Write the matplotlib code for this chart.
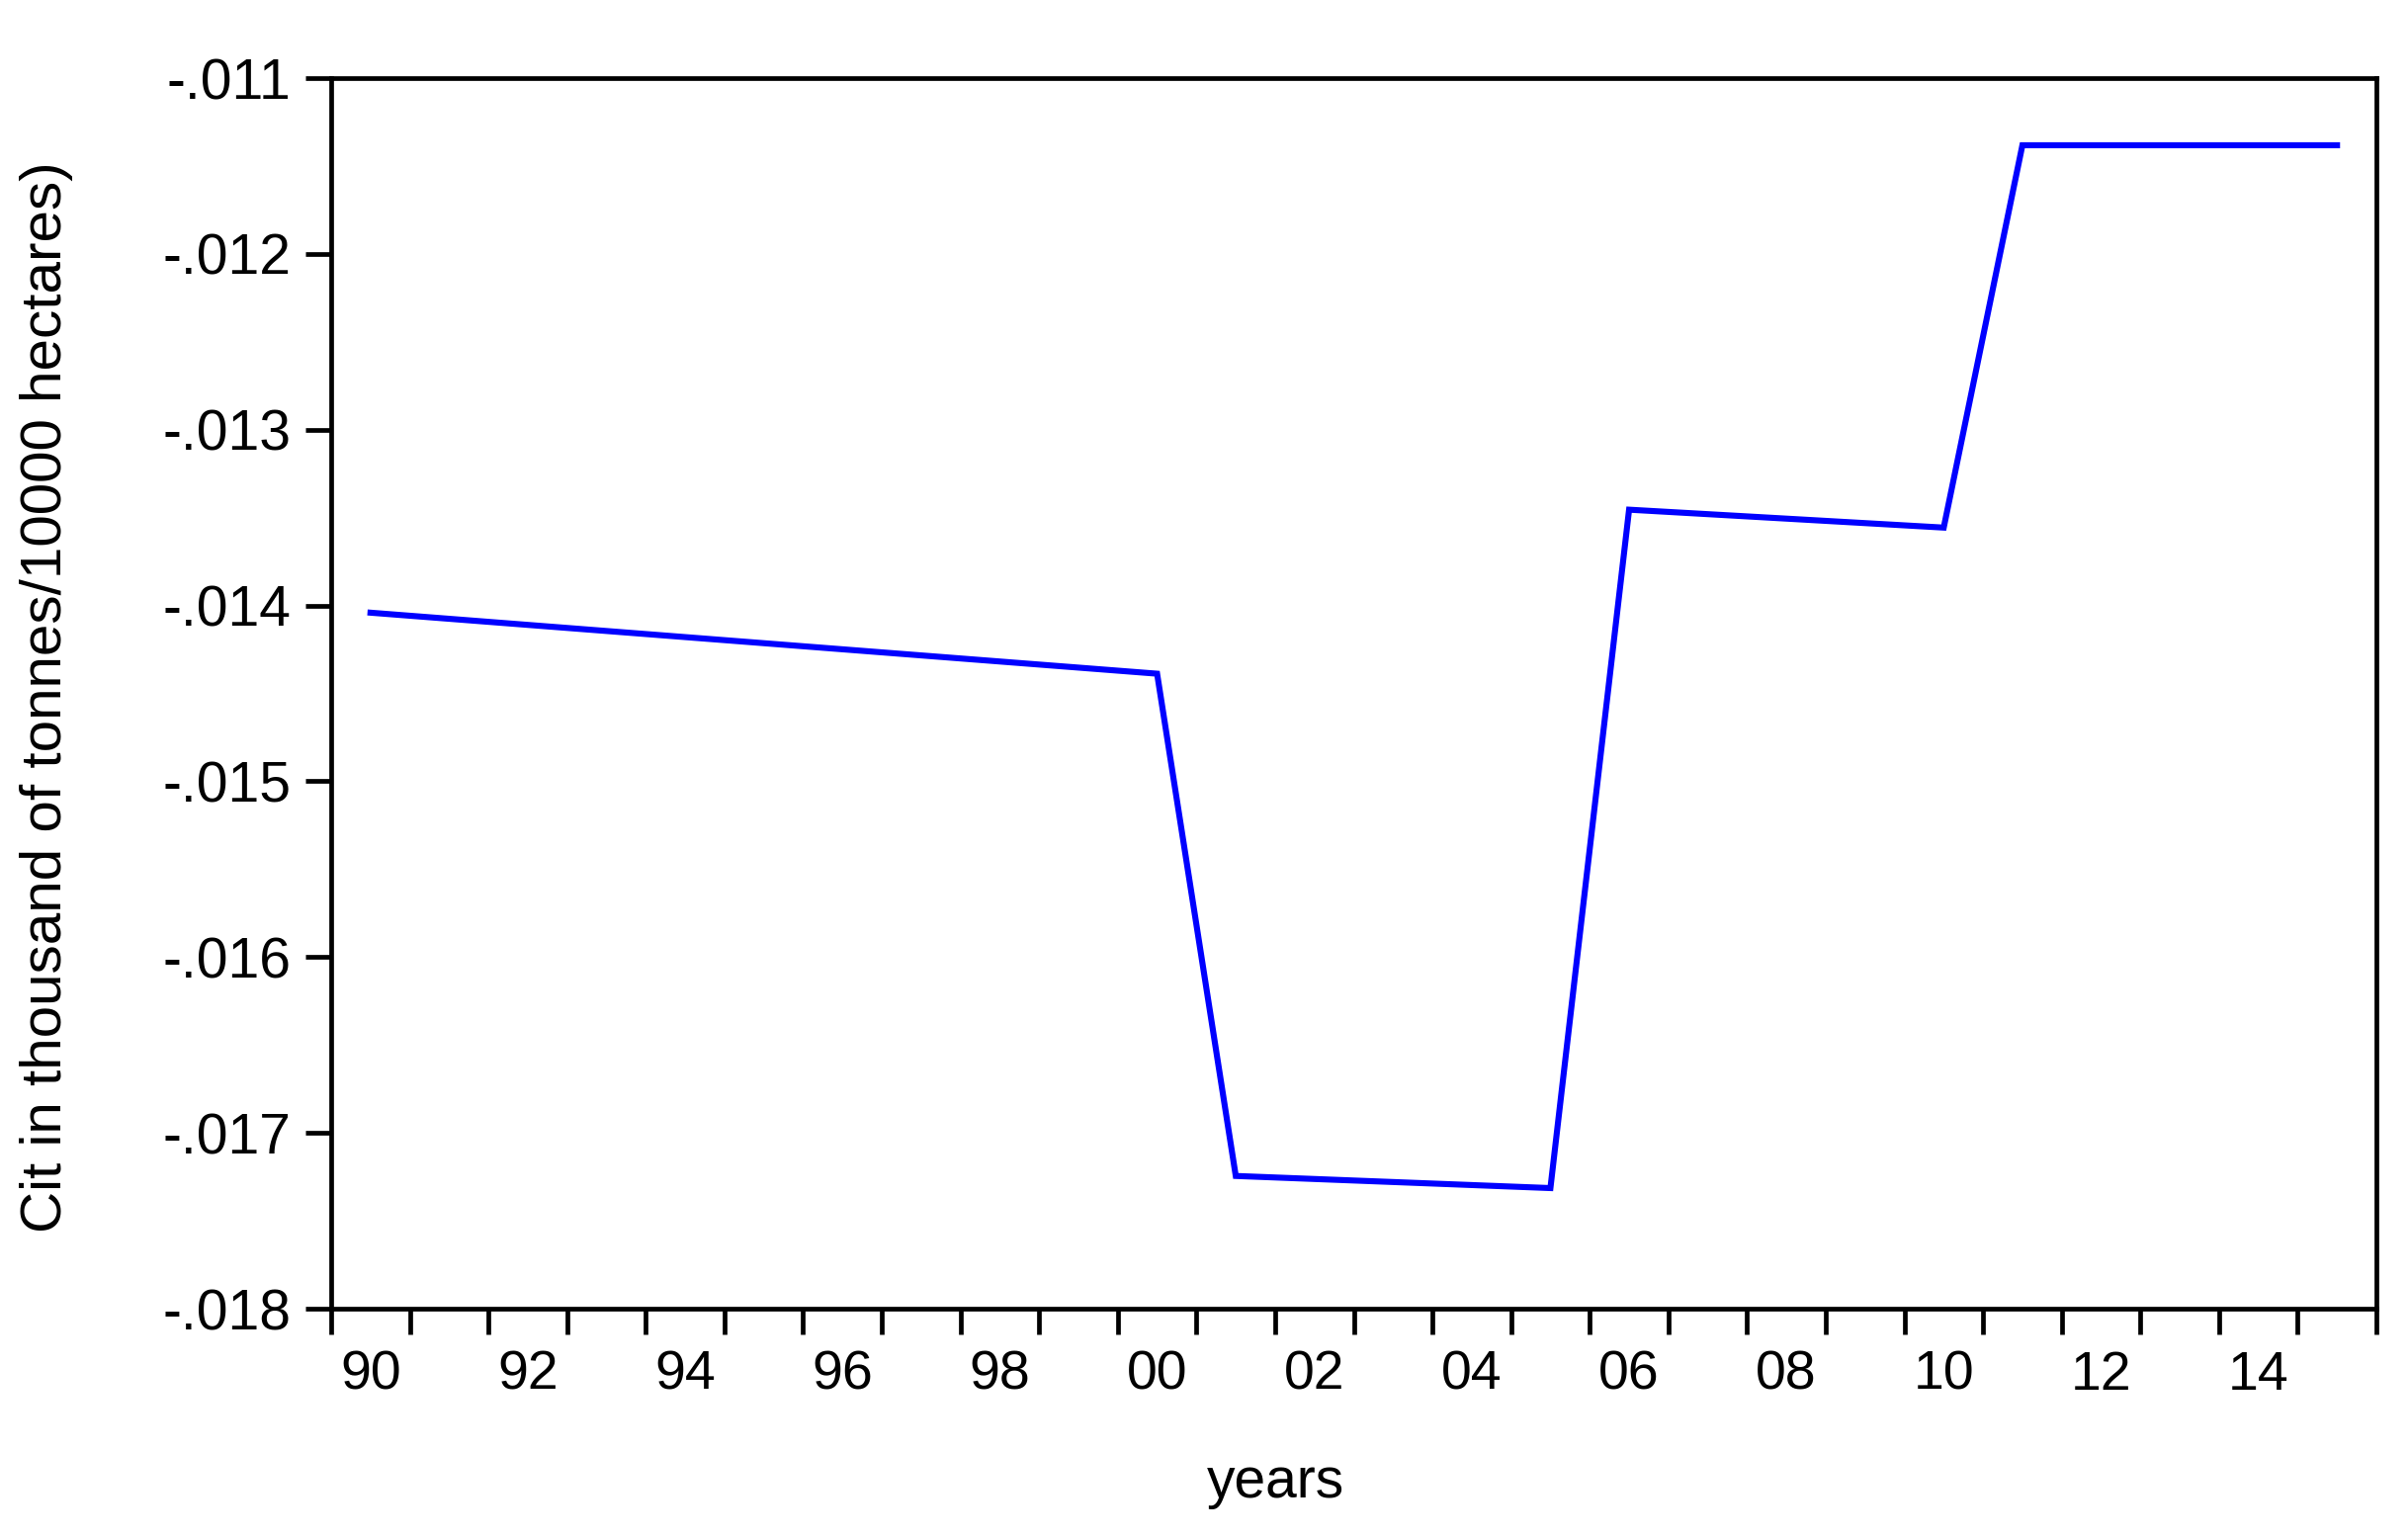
import matplotlib
matplotlib.use("Agg")
import matplotlib.pyplot as plt
from matplotlib.ticker import FixedLocator, NullFormatter

# ── Data (straight segments between vertices) ──
years  = [1990, 2000, 2001, 2005, 2006, 2010, 2011, 2015]
cit    = [-0.014041, -0.014388, -0.017245, -0.017314,
          -0.013455, -0.013557, -0.011382, -0.011382]

ytick_vals   = [-0.018, -0.017, -0.016, -0.015, -0.014, -0.013, -0.012, -0.011]
ytick_labels = ["-.018", "-.017", "-.016", "-.015", "-.014", "-.013", "-.012", "-.011"]
xlabel_years = [1990, 1992, 1994, 1996, 1998, 2000, 2002, 2004, 2006, 2008, 2010, 2012, 2014]
xlabel_text  = ["90", "92", "94", "96", "98", "00", "02", "04", "06", "08", "10", "12", "14"]

plt.rcParams["font.family"] = ["Liberation Sans", "DejaVu Sans"]

DPI = 100
fig = plt.figure(figsize=(24.36, 15.55), dpi=DPI)
ax = fig.add_axes([335 / 2436, 1 - 1324 / 1555, (2404 - 335) / 2436, (1324 - 79) / 1555])

ax.plot(years, cit, color="#0000FF", lw=4.4, solid_joinstyle="miter")

ax.set_xlim(1989.5, 2015.5)
ax.set_ylim(-0.018, -0.011)

# y axis: outward ticks with EViews style labels
ax.set_yticks(ytick_vals)
ax.set_yticklabels(ytick_labels)
ax.tick_params(axis="y", direction="out", length=19, width=3.4, pad=10,
               labelsize=41, right=False)

# x axis: tick marks at year boundaries, labels centred on even years
ax.set_xticks(xlabel_years)
ax.set_xticklabels(xlabel_text)
ax.tick_params(axis="x", which="major", length=0, pad=30, labelsize=40, top=False)
half_years = [y + 0.5 for y in range(1989, 2016)]
ax.xaxis.set_minor_locator(FixedLocator(half_years))
ax.xaxis.set_minor_formatter(NullFormatter())
ax.tick_params(axis="x", which="minor", direction="out", length=19, width=3.4,
               top=False)

for s in ax.spines.values():
    s.set_linewidth(3.4)
    s.set_color("black")

ax.set_ylabel("Cit in thousand of tonnes/10000 hectares)", fontsize=42)
ax.yaxis.set_label_coords(-0.126, 0.497)
ax.set_xlabel("years", fontsize=41)
ax.xaxis.set_label_coords((1290 - 335) / (2404 - 335), -0.12)

fig.savefig("out.png", dpi=DPI)
